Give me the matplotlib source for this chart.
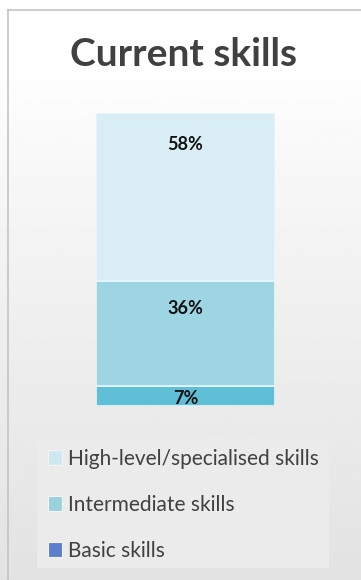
import matplotlib
matplotlib.use("Agg")
import matplotlib.pyplot as plt
import numpy as np
from matplotlib.patches import Patch, Rectangle
from matplotlib.lines import Line2D

# ---- data ----
title = "Current skills"
series = ["Basic skills", "Intermediate skills", "High-level/specialised skills"]
values = [7, 36, 58]
labels = ["7%", "36%", "58%"]
bar_colors = ["#5fbfd6", "#9dd5e2", "#d8eef4"]
legend_order = ["High-level/specialised skills", "Intermediate skills", "Basic skills"]
legend_colors = ["#cfe8ed", "#9ad3de", "#5b7fcc"]
label_offsets_px = [4, 19, 23]

W, H, DPI = 361, 580, 100
fig = plt.figure(figsize=(W / DPI, H / DPI), dpi=DPI)
fig.patch.set_facecolor("white")

# background gradient
bg = fig.add_axes([0, 0, 1, 1], zorder=-10)
grad = np.linspace(0, 1, 256)
shade = np.clip((grad - 0.12) / 0.88, 0, 1) ** 0.8
img = 1.0 - 0.11 * shade
bg.imshow(np.repeat(img[:, None], 2, axis=1), cmap="gray", vmin=0, vmax=1,
          aspect="auto", extent=[0, 1, 1, 0])
bg.set_xlim(0, 1); bg.set_ylim(1, 0)
bg.axis("off")

# frame lines (top and left)
fig.add_artist(Line2D([7.5 / W, 7.5 / W], [0, 1 - 9.5 / H], transform=fig.transFigure,
                      color="#c4c4c4", lw=1.2))
fig.add_artist(Line2D([7.5 / W, 1], [1 - 9.5 / H, 1 - 9.5 / H], transform=fig.transFigure,
                      color="#c4c4c4", lw=1.2))

font = "Lato"
fig.text(184 / W, 1 - 55 / H, title, ha="center", va="center", fontsize=28,
         fontweight="bold", color="#404040", family=font)

# bar axes
x0, x1, ytop, ybot = 96, 275, 113, 406
ax = fig.add_axes([x0 / W, 1 - ybot / H, (x1 - x0) / W, (ybot - ytop) / H])
ax.set_xlim(-0.5, 0.5)
total = sum(values)
ax.set_ylim(0, total)
bottom = 0
for v, c, lab, off in zip(values, bar_colors, labels, label_offsets_px):
    ax.bar(0, v, width=1.0, bottom=bottom, color=c, edgecolor="#e8f6fa", linewidth=1.2)
    top = bottom + v
    ax.annotate(lab, xy=(0, top), xytext=(0, -off), textcoords="offset pixels",
                ha="center", va="top", fontsize=13, fontweight="bold",
                color="#111111", family=font)
    bottom = top
ax.axis("off")

# legend background
fig.add_artist(Rectangle((37 / W, 1 - 568 / H), (329 - 37) / W, (568 - 438) / H,
                         transform=fig.transFigure, facecolor="#ebebeb",
                         edgecolor="none", zorder=0))

handles = [Patch(facecolor=c, edgecolor="#f4f4f4", linewidth=0.8) for c in legend_colors]
leg = fig.legend(handles, legend_order, loc="upper left",
                 bbox_to_anchor=(33 / W, 1 - 434 / H), frameon=False,
                 prop={"family": font, "size": 15}, labelcolor="#404040",
                 handlelength=0.7, handleheight=0.7, handletextpad=0.3,
                 labelspacing=1.25, borderpad=0.2)

fig.savefig("out.png", dpi=DPI)
